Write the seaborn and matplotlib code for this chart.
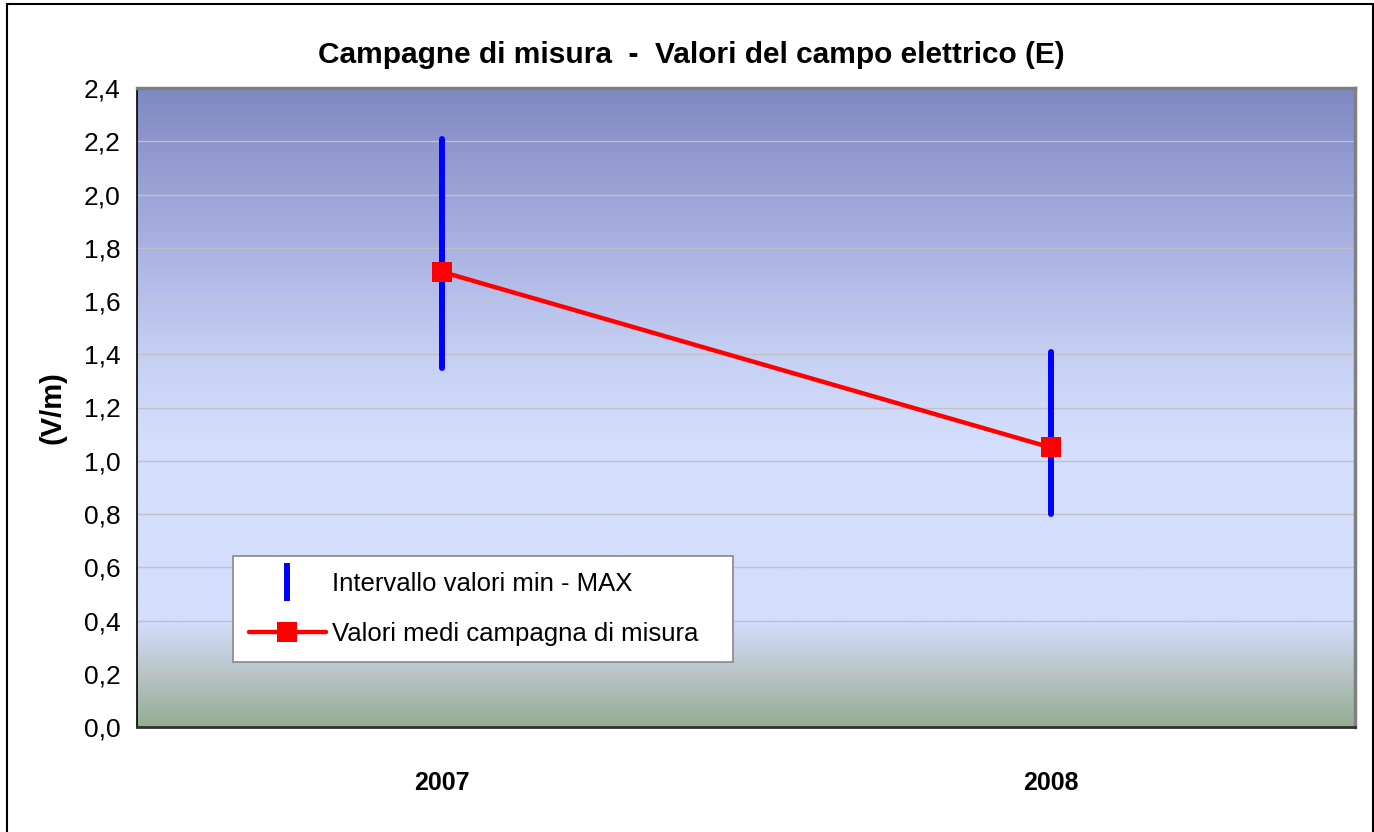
import numpy as np
import pandas as pd
import matplotlib
matplotlib.use("Agg")
import matplotlib.pyplot as plt
from matplotlib.colors import LinearSegmentedColormap
from matplotlib.lines import Line2D
from matplotlib.patches import Rectangle
import seaborn as sns

# ---- data ----
categories = ["2007", "2008"]
mean_values = [1.71, 1.05]
min_values = [1.35, 0.80]
max_values = [2.21, 1.41]
y_ticks = [0.0, 0.2, 0.4, 0.6, 0.8, 1.0, 1.2, 1.4, 1.6, 1.8, 2.0, 2.2, 2.4]

title = "Campagne di misura  -  Valori del campo elettrico (E)"
ylabel = "(V/m)"
legend_range = "Intervallo valori min - MAX"
legend_mean = "Valori medi campagna di misura"

sns.set_theme(style="white")
plt.rcParams["font.family"] = ["Liberation Sans", "DejaVu Sans"]
plt.rcParams["text.color"] = "black"
plt.rcParams["xtick.color"] = "black"
plt.rcParams["ytick.color"] = "black"
plt.rcParams["axes.labelcolor"] = "black"

fig = plt.figure(figsize=(13.74, 8.32), dpi=100)
ax = fig.add_axes([137 / 1374, 1 - 727 / 832, 1218 / 1374, 639 / 832])

df = pd.DataFrame({"anno": categories, "media": mean_values})

ymin, ymax = 0.0, 2.4
xlo, xhi = -0.5, 1.5

# gradient background
stops = [(0.0, "#95ad91"), (0.08, "#b6c4c6"), (0.165, "#d3defd"),
         (0.45, "#d3defd"), (0.58, "#c6d0f3"), (0.75, "#aab3e2"), (1.0, "#8088c2")]
cmap = LinearSegmentedColormap.from_list("bg", stops)
grad = np.linspace(0, 1, 512).reshape(-1, 1)
ax.imshow(grad, cmap=cmap, aspect="auto", origin="lower",
          extent=[xlo, xhi, ymin, ymax], zorder=0, interpolation="bilinear")

# mean line
sns.pointplot(data=df, x="anno", y="media", ax=ax, color="#ff0000",
              markers="s", linestyles="-", errorbar=None)
for ln in ax.lines:
    ln.set_linewidth(3.2)
    ln.set_markersize(14)
    ln.set_markeredgewidth(0)
    ln.set_zorder(30)
for c in ax.collections:
    c.set_sizes([200])
    c.set_zorder(31)
    c.set_linewidth(0)

# min-max ranges
pos = np.arange(len(categories))
for p, lo, hi in zip(pos, min_values, max_values):
    ax.plot([p, p], [lo, hi], color="#0000ff", lw=4.3, zorder=20,
            solid_capstyle="round")

# grid
ax.grid(False)
ax.set_axisbelow(True)
ax.hlines(y_ticks[1:-1], xlo, xhi, colors="#c2c2c6", lw=1.0, zorder=1)

ax.set_xlim(xlo, xhi)
ax.set_ylim(ymin, ymax)
ax.set_yticks(y_ticks)
ax.set_yticklabels([f"{v:.1f}".replace(".", ",") for v in y_ticks], fontsize=19)
ax.set_xticks(pos)
ax.set_xticklabels(categories, fontsize=18, fontweight="bold")
ax.set_xticks([-0.5, 0.5, 1.5], minor=True)
ax.tick_params(axis="x", which="major", length=0, pad=32)
ax.tick_params(axis="x", which="minor", length=14, width=1.2, direction="out", color="black")
ax.tick_params(axis="y", which="major", length=14, width=1.2, direction="inout", color="black", pad=5)
ax.set_xlabel("")
ax.set_ylabel(ylabel, fontsize=21, fontweight="bold", labelpad=12)
ax.grid(False)

for side in ["top", "right"]:
    ax.spines[side].set_color("#808080")
    ax.spines[side].set_linewidth(2.5)
ax.spines["left"].set_color("black")
ax.spines["left"].set_linewidth(1.2)
ax.spines["bottom"].set_color("#303030")
ax.spines["bottom"].set_linewidth(2.0)
for s in ax.spines.values():
    s.set_visible(True)

# legend
handles = [
    Line2D([], [], color="#0000ff", marker="|", linestyle="none",
           markersize=27, markeredgewidth=4.3),
    Line2D([], [], color="#ff0000", marker="s", linestyle="-", lw=3.2,
           markersize=14, markeredgewidth=0),
]
leg = ax.legend(handles, [legend_range, legend_mean], loc="lower left",
                bbox_to_anchor=(0.0788, 0.1017, 0.4105, 0.1674), mode="expand",
                borderaxespad=0, fontsize=18.5, frameon=True, fancybox=False,
                framealpha=1, edgecolor="#888888", facecolor="white",
                handlelength=3.0, handletextpad=0.25, labelspacing=1.0,
                borderpad=0.62)
leg.get_frame().set_linewidth(1.2)
leg.set_zorder(40)

fig.text(0.503, 1 - 55 / 832, title, fontsize=21.5, fontweight="bold",
         ha="center", va="center")

# figure border
fig.patches.append(Rectangle((7 / 1374, -0.05), 1 - 8.5 / 1374, 1.05 - 4 / 832,
                             transform=fig.transFigure, fill=False,
                             edgecolor="black", lw=1.5))

fig.savefig("out.png", dpi=100, facecolor="white")
